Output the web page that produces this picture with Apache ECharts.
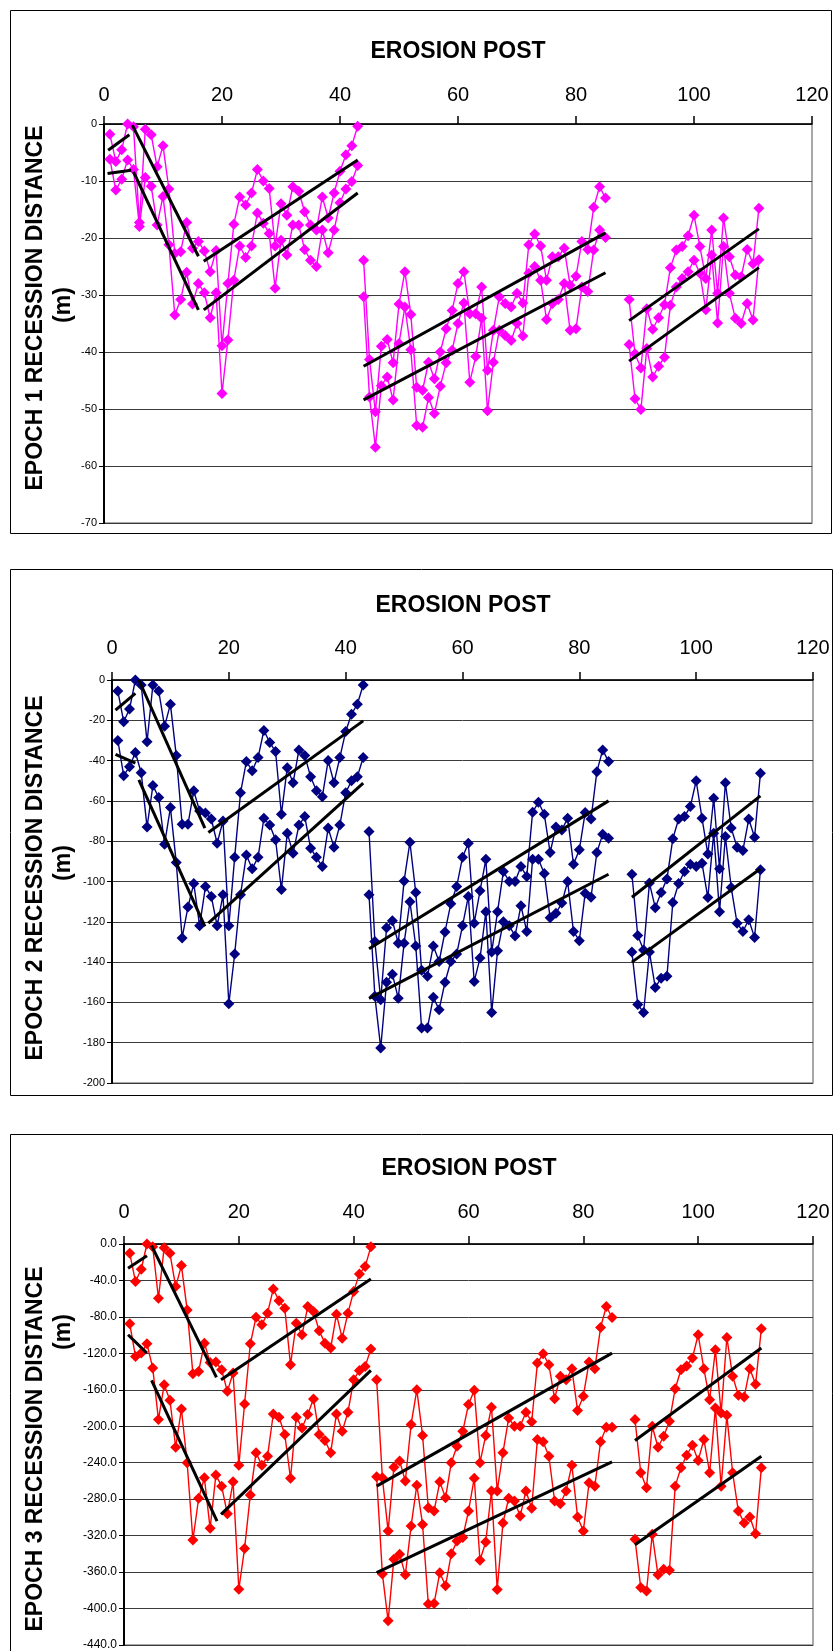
<!DOCTYPE html>
<html>
<head>
<meta charset="utf-8">
<script src="https://cdn.jsdelivr.net/npm/echarts@6/dist/echarts.min.js"></script>
<style>
html,body{margin:0;padding:0;background:#fff;}
#chart{width:835px;height:1651px;}
</style>
</head>
<body>
<div id="chart"></div>
<script>
// ---------- categories (erosion posts) ----------
const postsA = [1,2,3,4,5,6,7,8,9,10,11,12,13,14,15,16,17,18,19,20,21,22,23,24,25,26,27,28,29,30,31,32,33,34,35,36,37,38,39,40,41,42,43];
const postsB = [44,45,46,47,48,49,50,51,52,53,54,55,56,57,58,59,60,61,62,63,64,65,66,67,68,69,70,71,72,73,74,75,76,77,78,79,80,81,82,83,84,85];
const postsC = [89,90,91,92,93,94,95,96,97,98,99,100,101,102,103,104,105,106,107,108,109,110,111];

// ---------- Epoch 1 ----------
const e1UpperA = [-1.8,-6.6,-4.5,0,-0.5,-17.3,-0.9,-1.9,-7.5,-3.8,-11.4,-22.7,-22.4,-17.3,-21.8,-20.6,-22.3,-25.9,-22.2,-38.9,-28,-17.6,-12.8,-14.2,-12.1,-8,-10,-11.3,-21.4,-14,-16,-11,-11.8,-15.4,-17.7,-18.6,-12.8,-16.5,-12.1,-8.3,-5.4,-3.8,-0.4];
const e1LowerA = [-6.2,-11.6,-9.7,-6.3,-8,-18,-9.4,-10.9,-17.7,-12.7,-21.2,-33.5,-30.8,-26,-31.6,-28,-29.6,-34,-29.6,-47.3,-37.9,-27.4,-21.4,-23.4,-21.4,-15.6,-17.4,-19.2,-28.8,-20.4,-23,-17.7,-17.7,-22,-23.9,-25,-18.6,-22.6,-18.6,-13.8,-11.4,-10.1,-7.3];
const e1UpperB = [-23.9,-41.3,-50.5,-39,-37.8,-41.9,-31.6,-25.9,-33.4,-46.2,-46.7,-41.8,-44.7,-40,-35.9,-32.7,-28,-25.9,-33.3,-33.3,-28.6,-43.2,-36.2,-30.3,-31.5,-32.1,-29.7,-31.4,-21.2,-19.3,-21.4,-27.4,-23.3,-23.3,-21.8,-28.3,-26.7,-20.6,-22,-14.6,-11,-13];
const e1LowerB = [-30.3,-47.9,-56.7,-45.9,-44.4,-48.4,-38.5,-32.1,-39.6,-52.9,-53.2,-48,-50.8,-46,-41.9,-39.7,-35,-31.4,-45.3,-40.8,-34.1,-50.3,-41.8,-36.2,-37.1,-38,-35,-37.2,-26.2,-25,-27.4,-34.3,-31.5,-30.8,-28,-36.2,-35.9,-28.6,-29.4,-22.1,-18.6,-19.9];
const e1UpperC = [-30.8,-40.3,-42.8,-32.4,-36,-34,-31.7,-25.2,-22.1,-21.5,-19.6,-16,-21.5,-27.1,-18.6,-29.7,-16.5,-23.3,-26.5,-26.8,-22,-24.5,-14.8];
const e1LowerC = [-38.7,-48.2,-50.1,-39.4,-44.4,-42.5,-40.9,-31.8,-28.6,-27.1,-25.9,-23.9,-26.2,-32.6,-23,-34.9,-21.5,-29.7,-34.1,-35,-31.5,-34.4,-23.8];
const e1Trends = [[0.7,-4.6,4.3,-1.9],[0.6,-8.7,4.6,-8.1],[4.8,-0.2,16,-23.2],[5,-8.4,16,-32.6],[16.9,-24.1,43,-6.3],[16.9,-32.6,43,-12.1],[44,-42.5,85,-19.1],[44,-48.4,85,-26.1],[89,-34.5,111,-18.4],[89,-41.6,111,-25.2]];

// ---------- Epoch 2 ----------
const e2UpperA = [-5.5,-20.7,-14.4,0,-2.5,-30.6,-2.5,-5.5,-23,-12,-37.5,-71.6,-71.6,-55,-65,-66,-69,-81,-70,-122,-88,-56,-40.5,-45,-38.5,-25,-31,-35.5,-66.6,-43.5,-51,-34.7,-37.5,-48,-55,-58,-40,-51,-38.5,-25.6,-17,-12,-2.5];
const e2LowerA = [-30,-47.5,-43,-36,-46,-73,-52.4,-58.3,-81.5,-63.3,-90.6,-128,-112.7,-101,-122,-102.5,-107.4,-122,-106.6,-160.7,-136,-106.6,-86.8,-93.7,-88,-68.6,-72,-79.3,-104,-76,-86,-72,-67.8,-83.5,-88,-92.6,-73.5,-83,-72,-56,-50,-48,-38.5];
const e2UpperB = [-75.2,-129.8,-158.7,-123,-119.5,-130.6,-99.7,-80.5,-105.5,-144,-147,-132,-139.7,-125,-111,-102.5,-88,-81,-120.7,-104.6,-89,-135,-115,-95,-100,-100,-92.6,-97.5,-65.6,-60.7,-66.6,-85.6,-73,-74.4,-68.6,-91.4,-84.3,-65.8,-69,-45.5,-34.7,-40.5];
const e2LowerB = [-106.6,-157,-182.6,-150,-146,-158,-130.6,-110,-132,-172.7,-172.7,-157.5,-163.6,-150,-139.7,-136,-122,-107.4,-149.6,-138,-115,-165,-134.4,-120,-122,-127,-112,-124.8,-89,-89,-96,-118,-115.7,-110.7,-100,-124.8,-129.4,-105.8,-107.8,-85.6,-76.5,-78.5];
const e2UpperC = [-96.4,-126.8,-134,-100.8,-113,-105.5,-98.7,-78.8,-69,-67.8,-62.8,-50,-68.6,-86.4,-58.7,-93.7,-51,-73.5,-83,-84.6,-69,-78,-46.3];
const e2LowerC = [-135,-161,-165,-135,-152.6,-148,-147,-110.4,-101,-95,-91.4,-92.6,-91,-108,-76,-115,-77.7,-103,-120.7,-124.8,-119,-127.8,-94.2];
const e2Trends = [[0.6,-14.9,4,-6.6],[0.6,-36.9,4,-41.3],[4.6,0,15.9,-73.5],[4.6,-49.6,15.9,-122.3],[16.5,-75.7,43,-20.3],[16.5,-120.7,43,-51.2],[44,-133.4,85,-60],[44,-158,85,-96.4],[89,-107.8,111,-57.5],[89,-140,111,-93.7]];

// ---------- Epoch 3 ----------
const e3UpperA = [-10.2,-41.2,-27.7,0,-3,-59.5,-4,-10.2,-46.7,-23.7,-72.3,-142.3,-139.8,-108.8,-130,-129.6,-138,-161.7,-141.6,-242.7,-175.5,-109.5,-80.3,-88.7,-75.9,-49.3,-62.4,-70.4,-132.5,-86.9,-99.6,-68.6,-74,-95.3,-108.8,-114.2,-77,-103.3,-75.9,-52,-32.8,-24.8,-2.9];
const e3LowerA = [-87.6,-123.4,-119.7,-109.5,-136,-192.7,-154.4,-171.5,-223,-181,-240,-324.8,-279,-256.6,-312,-253.6,-265.7,-296,-261,-378.8,-334,-275.5,-229,-242.7,-232.8,-186.5,-190,-209,-257,-190,-201.8,-187,-170,-209,-215.7,-229,-186.5,-205.5,-184.7,-149,-138.7,-134.3,-115.3];
const e3UpperB = [-149,-256.6,-315,-245,-238,-260,-198,-160,-210,-289.4,-293,-261,-278.5,-240,-222,-205.5,-176,-160.6,-240,-210,-179,-271,-229,-191,-200,-200,-184.7,-195,-130.7,-120.4,-132.5,-169.7,-145,-149,-137,-182.8,-167,-129.6,-137,-91.6,-68.6,-80.7];
const e3LowerB = [-255.5,-362,-413.5,-346,-340.5,-363,-309.5,-264.6,-307.7,-395,-394.5,-360.6,-375,-340,-326,-322,-293,-257,-347,-327,-271,-379,-306,-279,-282,-298.5,-271,-290,-214.6,-217,-232.8,-282,-285,-271,-242.7,-299.6,-315,-262,-265.7,-217,-201,-201];
const e3UpperC = [-192.7,-251,-267.5,-200,-223,-211,-194.5,-158.8,-138,-134,-125,-99.6,-137,-170.8,-116,-185.4,-102.6,-145,-166,-168,-137,-154,-93];
const e3LowerC = [-324,-377,-380.7,-318.6,-363,-357,-358,-265.7,-245.6,-231.8,-220.8,-237.6,-214.6,-251,-180,-265.7,-188,-251,-293,-306,-299.6,-318,-245.6];
const e3Trends = [[0.7,-26.6,4,-12.8],[0.7,-99.6,4,-119.7],[4.8,-1.8,16.1,-146.4],[4.8,-149.6,16.2,-304],[16.9,-149,43,-38.3],[16.9,-296.7,43,-138.7],[44,-265.7,85,-119.7],[44,-360.6,85,-239],[89,-215.7,111,-114.2],[89,-330,111,-232.8]];

// ---------- axis settings ----------
const xTickLabels = ['0','20','40','60','80','100','120'];
const yMins = [-70, -200, -440];
const yIntervals = [10, 20, 40];
const panelNames = ['EPOCH 1 RECESSION DISTANCE','EPOCH 2 RECESSION DISTANCE','EPOCH 3 RECESSION DISTANCE'];
const seriesColors = ['#FF00FF', '#000080', '#FF0000'];

// ---------- layout ----------
const FONT = '"Liberation Sans", Arial, Helvetica, sans-serif';
const grids = [
  {left:104, top:124, width:708, height:399},
  {left:112, top:680, width:701, height:403},
  {left:124, top:1244, width:689, height:402}
];
const frames = [[10,10,821,523],[10,569,822,526],[10,1134,822,530]];
const titlePos = [[458,52],[463,606],[469,1169]];
const yNamePos = [[36,308],[36,878],[36,1449]];
const unitPos = [[64,305],[64,863],[64,1332]];
const xLabelMargin = [19, 22, 22];
const yLabelSize = [11, 11, 12];

const panels = [
  {A:[e1UpperA,e1LowerA], B:[e1UpperB,e1LowerB], C:[e1UpperC,e1LowerC], trends:e1Trends},
  {A:[e2UpperA,e2LowerA], B:[e2UpperB,e2LowerB], C:[e2UpperC,e2LowerC], trends:e2Trends},
  {A:[e3UpperA,e3LowerA], B:[e3UpperB,e3LowerB], C:[e3UpperC,e3LowerC], trends:e3Trends}
];

function pairs(posts, vals){ return posts.map((p,i)=>[p, vals[i]]); }

const series = [];
const xAxes = [], yAxes = [], gridOpts = [], graphics = [];
panels.forEach((pn, k) => {
  gridOpts.push(Object.assign({show:true, borderColor:'#8c8c8c', borderWidth:1.5, backgroundColor:'#fff', containLabel:false}, grids[k]));
  xAxes.push({
    gridIndex:k, type:'value', position:'top', min:0, max:120, interval:20,
    axisLine:{show:true, onZero:false, lineStyle:{color:'#000', width:1.5}},
    axisTick:{show:true, length:8, lineStyle:{color:'#000', width:1.5}},
    axisLabel:{fontSize:20, color:'#000', fontFamily:FONT, margin:xLabelMargin[k],
      formatter:(v)=>xTickLabels[Math.round(v/20)]},
    splitLine:{show:false}
  });
  yAxes.push({
    gridIndex:k, type:'value', min:yMins[k], max:0, interval:yIntervals[k],
    axisLine:{show:true, onZero:false, lineStyle:{color:'#000', width:2}},
    axisTick:{show:true, length:5, lineStyle:{color:'#000', width:1}},
    axisLabel:{fontSize:yLabelSize[k], color:'#000', fontFamily:FONT, margin:7,
      formatter:(v)=> k===2 ? v.toFixed(1) : String(v)},
    splitLine:{show:true, lineStyle:{color:'#3a3a3a', width:1}}
  });
  [pn.A, pn.B, pn.C].forEach((seg, si) => {
    const posts = [postsA, postsB, postsC][si];
    seg.forEach(vals => {
      series.push({
        type:'line', xAxisIndex:k, yAxisIndex:k, data:pairs(posts, vals),
        symbol:'diamond', symbolSize:11, showSymbol:true,
        itemStyle:{color:seriesColors[k], borderWidth:0},
        lineStyle:{color:seriesColors[k], width:1.4},
        z:2, silent:true
      });
    });
  });
  pn.trends.forEach(t => {
    series.push({
      type:'line', xAxisIndex:k, yAxisIndex:k,
      data:[[t[0],t[1]],[t[2],t[3]]], symbol:'none',
      lineStyle:{color:'#000', width:3}, z:5, silent:true
    });
  });
  const f = frames[k];
  graphics.push({type:'rect', z:-10, shape:{x:f[0]+0.5, y:f[1]+0.5, width:f[2], height:f[3]},
    style:{fill:'#fff', stroke:'#000', lineWidth:1}});
  graphics.push({type:'text', x:titlePos[k][0], y:titlePos[k][1], z:10,
    style:{text:'EROSION POST', font:'bold 23px '+FONT, fill:'#000', textAlign:'center', textVerticalAlign:'middle'}});
  graphics.push({type:'text', x:yNamePos[k][0], y:yNamePos[k][1], rotation:Math.PI/2, z:10,
    style:{text:panelNames[k], font:'bold 23px '+FONT, fill:'#000', textAlign:'center', textVerticalAlign:'middle'}});
  graphics.push({type:'text', x:unitPos[k][0], y:unitPos[k][1], rotation:Math.PI/2, z:10,
    style:{text:'(m)', font:'bold 23px '+FONT, fill:'#000', textAlign:'center', textVerticalAlign:'middle'}});
});

const chart = echarts.init(document.getElementById('chart'), null, {renderer:'canvas'});
chart.setOption({
  animation:false,
  backgroundColor:'#fff',
  grid:gridOpts,
  xAxis:xAxes,
  yAxis:yAxes,
  series:series,
  graphic:{elements:graphics}
});
</script>
</body>
</html>
